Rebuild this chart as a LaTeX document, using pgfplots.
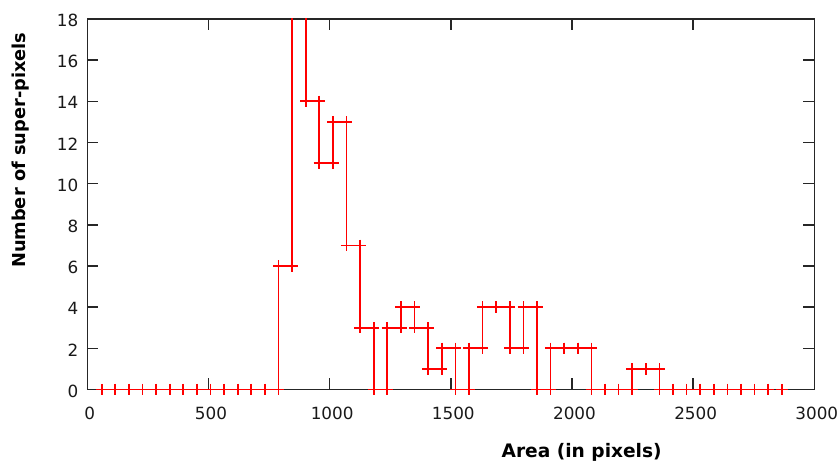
\documentclass[border=0pt]{standalone}
\usepackage{pgfplots}
\pgfplotsset{compat=1.18}
\usepackage{pgfplotstable}
\usepackage{fontspec}
\setmainfont{DejaVu Sans}

% one row per bin: left edge, right edge, count
\pgfplotstableread{
L R Y
59.4 115.5 0
115.5 171.7 0
171.7 227.8 0
227.8 283.9 0
283.9 340.1 0
340.1 396.2 0
396.2 452.3 0
452.3 508.4 0
508.4 564.6 0
564.6 620.7 0
620.7 676.8 0
676.8 733.0 0
733.0 789.1 0
789.1 845.2 6
845.2 901.4 25
901.4 957.5 14
957.5 1013.6 11
1013.6 1069.7 13
1069.7 1125.9 7
1125.9 1182.0 3
1182.0 1238.1 0
1238.1 1294.3 3
1294.3 1350.4 4
1350.4 1406.5 3
1406.5 1462.7 1
1462.7 1518.8 2
1518.8 1574.9 0
1574.9 1631.0 2
1631.0 1687.2 4
1687.2 1743.3 4
1743.3 1799.4 2
1799.4 1855.6 4
1855.6 1911.7 0
1911.7 1967.8 2
1967.8 2024.0 2
2024.0 2080.1 2
2080.1 2136.2 0
2136.2 2192.3 0
2192.3 2248.5 0
2248.5 2304.6 1
2304.6 2360.7 1
2360.7 2416.9 0
2416.9 2473.0 0
2473.0 2529.1 0
2529.1 2585.3 0
2585.3 2641.4 0
2641.4 2697.5 0
2697.5 2753.6 0
2753.6 2809.8 0
2809.8 2865.9 0
}\bins

\begin{document}
\begin{tikzpicture}
\begin{axis}[
  scale only axis, width=727bp, height=370.5bp,
  xmin=0, xmax=3000, ymin=0, ymax=18,
  xtick={0,500,...,3000}, ytick={0,2,...,18},
  tick align=inside, major tick length=11bp,
  axis line style={line width=1.5bp, black!85},
  every tick/.style={line width=1.5bp, black!85},
  /pgf/number format/assume math mode=true,
  /pgf/number format/set thousands separator={},
  ticklabel style={font=\fontsize{16.8bp}{20bp}\selectfont, text=black!90},
  xticklabel style={yshift=-14.5bp, xshift=2.5bp},
  yticklabel style={xshift=-5.5bp, yshift=-1.5bp},
  xlabel={\textbf{Area (in pixels)}},
  ylabel={\textbf{Number of super-pixels}},
  xlabel style={at={(axis description cs:0.680,-0.171)}, anchor=center,
    font=\fontsize{18.6bp}{22bp}\selectfont},
  ylabel style={at={(axis description cs:-0.0919,0.646)}, anchor=center,
    font=\fontsize{17.8bp}{20bp}\selectfont},
]
\addplot[red, line width=1.7bp, const plot, mark=none] table[x=L, y=Y] {\bins};
\addplot[red, line width=1.7bp, only marks, mark=+, mark size=5.7bp] table[x=L, y=Y] {\bins};
\addplot[red, line width=1.7bp, only marks, mark=+, mark size=5.7bp] table[x=R, y=Y] {\bins};
\end{axis}
\pgfresetboundingbox
\path[use as bounding box] ([shift={(-87.3bp,-76.5bp)}]current axis.south west)
  rectangle ([shift={(25.7bp,19bp)}]current axis.north east);
\end{tikzpicture}
\end{document}
